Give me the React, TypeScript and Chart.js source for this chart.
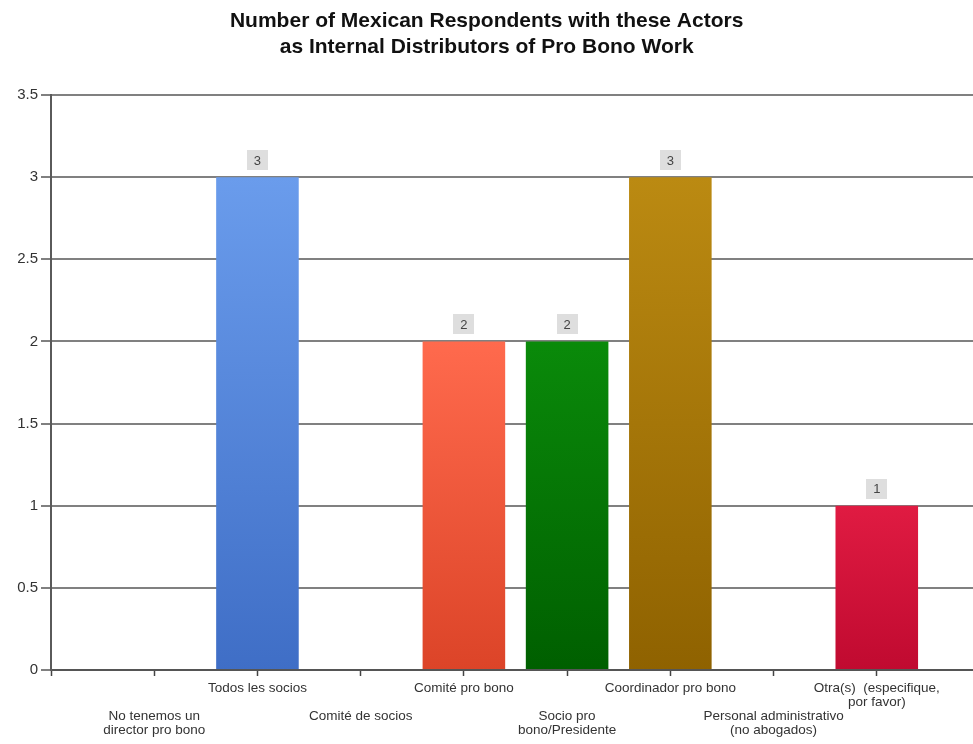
import React, { useEffect, useRef } from "react";
import { Chart, registerables } from "chart.js";

Chart.register(...registerables);

const TITLE_LINES = [
  "Number of Mexican Respondents with these Actors  ",
  "as Internal Distributors of Pro Bono Work  ",
];

// Category labels (rows alternate: top row / bottom row)
const CATEGORIES: (string | string[])[] = [
  "",
  ["", "", "No tenemos un", "director pro bono"],
  "Todos les socios",
  ["", "", "Comité de socios"],
  "Comité pro bono",
  ["", "", "Socio pro", "bono/Presidente"],
  "Coordinador pro bono",
  ["", "", "Personal administrativo", "(no abogados)"],
  ["Otra(s)  (especifique,", "por favor)"],
  "",
];

const VALUES: (number | null)[] = [null, 0, 3, 0, 2, 2, 3, 0, 1, null];

const TOP_COLORS = ["#fff", "#6a9cec", "#6a9cec", "#ff6a4d", "#ff6a4d", "#0a8a0a", "#bb8a12", "#888", "#e01b42", "#fff"];
const BOTTOM_COLORS = ["#fff", "#3f6ec6", "#3f6ec6", "#dc4428", "#dc4428", "#005f00", "#8f6200", "#666", "#c00a30", "#fff"];

const Y_TICKS_MAX = 3.5;
const Y_STEP = 0.5;

const valueBoxes = {
  id: "valueBoxes",
  afterDatasetsDraw(chart: any) {
    const ctx = chart.ctx;
    const meta = chart.getDatasetMeta(0);
    meta.data.forEach((bar: any, i: number) => {
      const v = VALUES[i];
      if (v == null || v <= 0) return;
      const x = bar.x;
      const top = bar.y;
      const w = 21;
      const h = 20;
      const bottom = top - 7;
      ctx.save();
      ctx.fillStyle = "#dedede";
      ctx.fillRect(Math.round(x - w / 2), Math.round(bottom - h), w, h);
      ctx.fillStyle = "#444";
      ctx.font = "13px 'Liberation Sans', Arial, sans-serif";
      ctx.textAlign = "center";
      ctx.textBaseline = "middle";
      ctx.fillText(String(v), x, bottom - h / 2 + 1);
      ctx.restore();
    });
  },
};

export default function App() {
  const ref = useRef<HTMLCanvasElement | null>(null);

  useEffect(() => {
    document.body.style.margin = "0";
    document.body.style.overflow = "hidden";
    const canvas = ref.current;
    if (!canvas) return;
    const chart = new Chart(canvas, {
      type: "bar",
      data: {
        labels: CATEGORIES as any,
        datasets: [
          {
            data: VALUES as any,
            barPercentage: 0.8,
            categoryPercentage: 1,
            backgroundColor: (c: any) => {
              const chart = c.chart;
              const i = c.dataIndex;
              const v = VALUES[i];
              const ys = chart.scales?.y;
              if (!chart.chartArea || !ys || v == null || v <= 0) return TOP_COLORS[i];
              const t = ys.getPixelForValue(v);
              const b = ys.getPixelForValue(0);
              const g = chart.ctx.createLinearGradient(0, t, 0, b);
              g.addColorStop(0, TOP_COLORS[i]);
              g.addColorStop(1, BOTTOM_COLORS[i]);
              return g;
            },
            borderWidth: 0,
          },
        ],
      },
      options: {
        animation: false,
        responsive: true,
        maintainAspectRatio: false,
        layout: { padding: 0 },
        plugins: {
          legend: { display: false },
          tooltip: { enabled: false },
          title: {
            display: true,
            text: TITLE_LINES,
            color: "#111",
            font: { family: "'Liberation Sans', Arial, sans-serif", size: 21, weight: "bold", lineHeight: "26px" as any },
            padding: { top: 8, bottom: 35 },
          },
        },
        scales: {
          x: {
            type: "category",
            offset: false,
            afterFit: (s: any) => {
              s.height = 74;
            },
            grid: {
              offset: false,
              drawOnChartArea: false,
              drawTicks: true,
              tickLength: 6,
              tickColor: "#444",
              tickWidth: 1.5,
            },
            border: { display: true, color: "#555", width: 2 },
            ticks: {
              autoSkip: false,
              maxRotation: 0,
              minRotation: 0,
              padding: 5,
              color: "#333",
              font: { family: "'Liberation Sans', Arial, sans-serif", size: 13.5, lineHeight: "14px" as any },
            },
          },
          y: {
            min: 0,
            max: Y_TICKS_MAX,
            afterFit: (s: any) => {
              s.width = 51;
            },
            grid: {
              color: "#808080",
              lineWidth: 2,
              tickLength: 10,
              tickColor: "#808080",
            },
            border: { display: true, color: "#5a5a5a", width: 2 },
            ticks: {
              stepSize: Y_STEP,
              padding: 3,
              color: "#333",
              font: { family: "'Liberation Sans', Arial, sans-serif", size: 15 },
              callback: (v: any) => String(v),
            },
          },
        },
      },
      plugins: [valueBoxes],
    });
    return () => chart.destroy();
  }, []);

  return (
    <div style={{ width: 973, height: 744, position: "relative", overflow: "hidden", background: "#fff" }}>
      <div style={{ width: 985, height: 744, position: "relative" }}>
        <canvas ref={ref} />
      </div>
    </div>
  );
}
